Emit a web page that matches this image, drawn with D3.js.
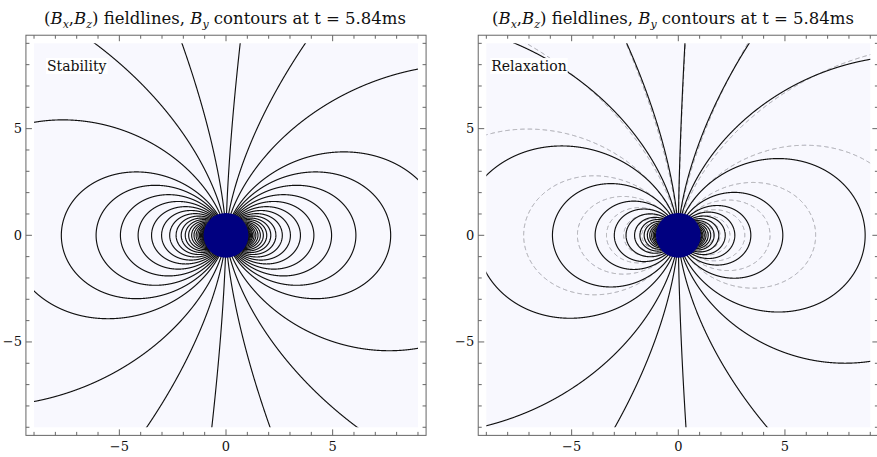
<!DOCTYPE html>
<html>
<head>
<meta charset="utf-8">
<script src="https://cdn.jsdelivr.net/npm/d3@7"></script>
<style>
  body { margin: 0; background: #fff; }
  svg { display: block; }
  text { font-family: "DejaVu Serif", "Liberation Serif", serif; fill: #111; }
</style>
</head>
<body>
<svg id="chart" width="877" height="457"></svg>
<script>
// ---- data -------------------------------------------------------------
const panelLabels = ["Stability", "Relaxation"];
const timeLabel = "5.84ms";
const majorTicks = [-5, 0, 5];
const minorTicks = [-9, -8, -7, -6, -4, -3, -2, -1, 1, 2, 3, 4, 6, 7, 8, 9];

// Field lines are labelled by L, the distance at which they would cross
// the equator (r = L sin^p(theta), theta measured from the vertical axis).
// Stability run: pure dipole (p = 2).
const stabilityLoops = [7.72, 6.09, 4.95, 4.12, 3.49, 3.02, 2.64, 2.34, 2.10, 1.91,
                        1.75, 1.61, 1.50, 1.40, 1.32, 1.25, 1.20, 1.15, 1.11, 1.08, 1.05];
const stabilityOpenUpperRight = [10.16, 20.83, 66.8, 1661];
const stabilityOpenUpperLeft  = [14.06, 34.24, 184.6];
const stabilityOpenLowerLeft  = [10.16, 20.83, 66.8, 1661];
const stabilityOpenLowerRight = [14.06, 34.24, 184.6];

// Relaxation run, initial dipole (dashed, p = 2).
const initialLoopsRight = [6.44, 4.30, 3.12, 2.42, 1.96, 1.64, 1.42, 1.27, 1.16, 1.08, 1.04];
const initialLoopsLeft  = [7.25, 4.73, 3.37, 2.56, 2.05, 1.71, 1.47, 1.30, 1.18, 1.10, 1.05];
const initialOpenUpperRight = [10.97, 23.3, 82.6, 6700];
const initialOpenUpperLeft  = [12.94, 29.8, 135.6];

// Relaxation run, relaxed field (solid, p = 1.7).
const relaxedLoopsRight = [8.76, 4.9, 3.4, 2.65, 2.2, 1.9, 1.68, 1.52, 1.4, 1.3, 1.22, 1.15, 1.1, 1.06];
const relaxedLoopsLeft  = [5.9, 3.9, 3.0, 2.45, 2.05, 1.8, 1.6, 1.45, 1.34, 1.25, 1.18, 1.12, 1.07];
const relaxedOpenUpperRight = [20.5, 58.2, 2750];
const relaxedOpenUpperLeft  = [10.2, 24.7, 92.4];
const relaxedOpenLowerLeft  = [9.47, 22.7, 68.0];
const relaxedOpenLowerRight = [14.6, 43.3, 2150];

const dipoleIndex = 2.0;
const relaxedIndex = 1.7;
const starRadius = 1.05;

// ---- layout -----------------------------------------------------------
const unit = 21.33;
const panels = [
  { cx: 226.0, cy: 235.3, titleX: 225, label: panelLabels[0] },
  { cx: 678.3, cy: 235.3, titleX: 673, label: panelLabels[1] }
];
const plotLim = 9, frameLim = 9.38;

const svg = d3.select("#chart");

// trace one field line r = L sin^p(theta) from the star outward
function traceLine(L, p, side, half) {
  const s0 = Math.pow(1 / L, 1 / p);
  const th0 = Math.asin(Math.min(1, s0));
  const pts = [];
  const N = 3000;
  let thA, thB;
  if (half === "upper") { thA = th0; thB = Math.PI / 2; }
  else if (half === "lower") { thA = Math.PI - th0; thB = Math.PI / 2; }
  else { thA = th0; thB = Math.PI - th0; }
  for (let i = 0; i <= N; i++) {
    const t = thA + (thB - thA) * i / N;
    const r = L * Math.pow(Math.sin(t), p);
    const x = side * r * Math.sin(t), z = r * Math.cos(t);
    pts.push([x, z]);
    if (Math.abs(x) > plotLim + 0.3 || Math.abs(z) > plotLim + 0.3) break;
  }
  return pts;
}

panels.forEach((P, i) => {
  const x = d3.scaleLinear().domain([-1, 1]).range([P.cx - unit, P.cx + unit]);
  const y = d3.scaleLinear().domain([-1, 1]).range([P.cy + unit, P.cy - unit]);
  const g = svg.append("g");

  // plot background
  g.append("rect")
    .attr("x", x(-plotLim)).attr("y", y(plotLim))
    .attr("width", x(plotLim) - x(-plotLim)).attr("height", y(-plotLim) - y(plotLim))
    .attr("fill", "#f8f8fe");

  const clipId = "clip" + i;
  svg.append("clipPath").attr("id", clipId).append("rect")
    .attr("x", x(-plotLim)).attr("y", y(plotLim))
    .attr("width", x(plotLim) - x(-plotLim)).attr("height", y(-plotLim) - y(plotLim));

  const lines = g.append("g").attr("clip-path", `url(#${clipId})`);
  const lineGen = d3.line().x(d => x(d[0])).y(d => y(d[1]));

  function draw(Ls, p, side, half, dashed) {
    Ls.forEach(L => {
      lines.append("path")
        .attr("d", lineGen(traceLine(L, p, side, half)))
        .attr("fill", "none")
        .attr("stroke", dashed ? "#9a9aa0" : "#111")
        .attr("stroke-width", dashed ? 1.0 : 1.15)
        .attr("stroke-dasharray", dashed ? "4.5,3" : null);
    });
  }

  if (i === 0) {
    draw(stabilityLoops, dipoleIndex, 1, "full");
    draw(stabilityLoops, dipoleIndex, -1, "full");
    draw(stabilityOpenUpperRight, dipoleIndex, 1, "upper");
    draw(stabilityOpenUpperLeft, dipoleIndex, -1, "upper");
    draw(stabilityOpenLowerLeft, dipoleIndex, -1, "lower");
    draw(stabilityOpenLowerRight, dipoleIndex, 1, "lower");
  } else {
    draw(initialLoopsRight, dipoleIndex, 1, "full", true);
    draw(initialLoopsLeft, dipoleIndex, -1, "full", true);
    draw(initialOpenUpperRight, dipoleIndex, 1, "upper", true);
    draw(initialOpenUpperLeft, dipoleIndex, -1, "upper", true);
    draw(relaxedLoopsRight, relaxedIndex, 1, "full");
    draw(relaxedLoopsLeft, relaxedIndex, -1, "full");
    draw(relaxedOpenUpperRight, relaxedIndex, 1, "upper");
    draw(relaxedOpenUpperLeft, relaxedIndex, -1, "upper");
    draw(relaxedOpenLowerLeft, relaxedIndex, -1, "lower");
    draw(relaxedOpenLowerRight, relaxedIndex, 1, "lower");
  }

  // star
  g.append("circle")
    .attr("cx", x(0)).attr("cy", y(0))
    .attr("r", x(starRadius) - x(0))
    .attr("fill", "#000080");

  // frame
  const fx0 = x(-frameLim), fx1 = x(frameLim), fy0 = y(frameLim), fy1 = y(-frameLim);
  g.append("rect")
    .attr("x", fx0).attr("y", fy0).attr("width", fx1 - fx0).attr("height", fy1 - fy0)
    .attr("fill", "none").attr("stroke", "#666").attr("stroke-width", 1);

  // ticks on all four sides, pointing inward
  const tickG = g.append("g").attr("stroke", "#666").attr("stroke-width", 1);
  const allTicks = majorTicks.map(v => ({ v, len: 6 })).concat(minorTicks.map(v => ({ v, len: 3.5 })));
  allTicks.forEach(t => {
    tickG.append("line").attr("x1", x(t.v)).attr("x2", x(t.v)).attr("y1", fy1).attr("y2", fy1 - t.len);
    tickG.append("line").attr("x1", x(t.v)).attr("x2", x(t.v)).attr("y1", fy0).attr("y2", fy0 + t.len);
    tickG.append("line").attr("y1", y(t.v)).attr("y2", y(t.v)).attr("x1", fx0).attr("x2", fx0 + t.len);
    tickG.append("line").attr("y1", y(t.v)).attr("y2", y(t.v)).attr("x1", fx1).attr("x2", fx1 - t.len);
  });

  const fmt = v => (v < 0 ? "\u2212" + Math.abs(v) : String(v));
  majorTicks.forEach(v => {
    g.append("text").attr("x", x(v)).attr("y", fy1 + 16)
      .attr("text-anchor", "middle").attr("font-size", 13).text(fmt(v));
    g.append("text").attr("x", fx0 - 4).attr("y", y(v) + 4.5)
      .attr("text-anchor", "end").attr("font-size", 13).text(fmt(v));
  });

  // panel label in a white box, centred at x = -7
  const lab = g.append("text").attr("x", x(-7)).attr("y", y(7.7))
    .attr("text-anchor", "middle").attr("font-size", 14).text(P.label);
  const bb = lab.node().getBBox();
  g.insert("rect", () => lab.node())
    .attr("x", bb.x - 1).attr("y", bb.y).attr("width", bb.width + 2).attr("height", bb.height)
    .attr("fill", "#fff");

  // title
  const title = svg.append("text").attr("x", P.titleX).attr("y", 24)
    .attr("text-anchor", "middle").attr("font-size", 16.5);
  title.append("tspan").text("(");
  title.append("tspan").attr("font-style", "italic").text("B");
  title.append("tspan").attr("font-size", 11).attr("dy", 3.5).attr("font-style", "italic").text("x");
  title.append("tspan").attr("dy", -3.5).text(",");
  title.append("tspan").attr("font-style", "italic").text("B");
  title.append("tspan").attr("font-size", 11).attr("dy", 3.5).attr("font-style", "italic").text("z");
  title.append("tspan").attr("dy", -3.5).text(") fieldlines, ");
  title.append("tspan").attr("font-style", "italic").text("B");
  title.append("tspan").attr("font-size", 11).attr("dy", 3.5).attr("font-style", "italic").text("y");
  title.append("tspan").attr("dy", -3.5).text(" contours at t = " + timeLabel);
});
</script>
</body>
</html>
